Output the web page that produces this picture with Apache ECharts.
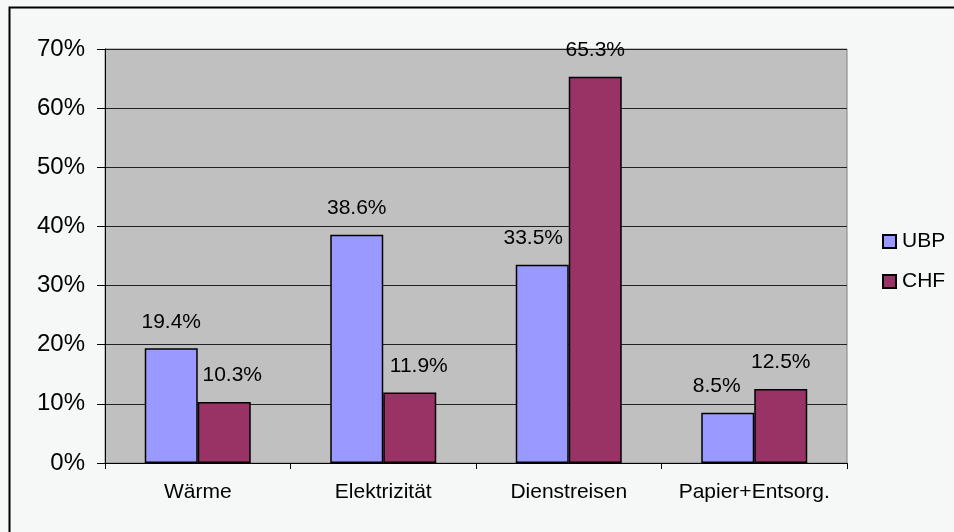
<!DOCTYPE html>
<html>
<head>
<meta charset="utf-8">
<script src="https://cdn.jsdelivr.net/npm/echarts@6/dist/echarts.min.js"></script>
<style>
html,body{margin:0;padding:0;background:#F6F7F7;}
#chart{width:954px;height:532px;}
</style>
</head>
<body>
<div id="chart"></div>
<script>
const categories = ['Wärme', 'Elektrizität', 'Dienstreisen', 'Papier+Entsorg.'];
const ubpValues = [19.4, 38.6, 33.5, 8.5];
const chfValues = [10.3, 11.9, 65.3, 12.5];
const seriesNames = ['UBP', 'CHF'];

const FONT = "'Liberation Sans', Arial, sans-serif";
// horizontal nudges of data labels, as placed in the original
const ubpShift = [0, 0, -9, -11];
const chfShift = [8, 9, 0, 0];

function mk(vals, shifts) {
  return vals.map((v, i) => ({ value: v, label: { offset: [shifts[i], 0] } }));
}

const chart = echarts.init(document.getElementById('chart'), null, { renderer: 'canvas' });
chart.setOption({
  backgroundColor: '#F6F7F7',
  animation: false,
  textStyle: { fontFamily: FONT },
  graphic: [{
    type: 'rect',
    shape: { x: 9.5, y: 7.5, width: 1000, height: 600 },
    style: { fill: 'none', stroke: '#000', lineWidth: 2 },
    silent: true, z: 100
  }],
  grid: {
    left: 105, right: 107, top: 49, bottom: 69,
    show: true, backgroundColor: '#C0C0C0', borderColor: '#808080', borderWidth: 1
  },
  legend: {
    orient: 'vertical',
    left: 877, top: 226,
    icon: 'rect',
    itemWidth: 13, itemHeight: 13, itemGap: 19,
    textStyle: { fontFamily: FONT, fontSize: 21, color: '#000', padding: [0, 0, 0, 1] },
    data: seriesNames
  },
  xAxis: {
    type: 'category',
    data: categories,
    axisLine: { lineStyle: { color: '#000', width: 1 } },
    axisTick: { show: true, interval: 0, length: 6, lineStyle: { color: '#000' } },
    axisLabel: { interval: 0, fontFamily: FONT, fontSize: 21, color: '#000', margin: 19 }
  },
  yAxis: {
    type: 'value',
    min: 0, max: 70, interval: 10,
    axisLine: { show: true, lineStyle: { color: '#000', width: 1 } },
    axisTick: { show: true, length: 8, lineStyle: { color: '#000' } },
    axisLabel: { fontFamily: FONT, fontSize: 24, color: '#000', margin: 20, formatter: '{value}%' },
    splitLine: { show: true, lineStyle: { color: '#222', width: 1 } }
  },
  series: [
    {
      name: seriesNames[0], type: 'bar', data: mk(ubpValues, ubpShift),
      barWidth: 53, barGap: '0%',
      itemStyle: { color: '#9999FF', borderColor: '#000', borderWidth: 1.5 },
      label: { show: true, position: 'top', distance: 16, fontFamily: FONT, fontSize: 21, color: '#000',
        formatter: p => p.value.toFixed(1) + '%' }
    },
    {
      name: seriesNames[1], type: 'bar', data: mk(chfValues, chfShift),
      barWidth: 53, barGap: '0%',
      itemStyle: { color: '#993366', borderColor: '#000', borderWidth: 1.5 },
      label: { show: true, position: 'top', distance: 16, fontFamily: FONT, fontSize: 21, color: '#000',
        formatter: p => p.value.toFixed(1) + '%' }
    }
  ]
});
</script>
</body>
</html>
